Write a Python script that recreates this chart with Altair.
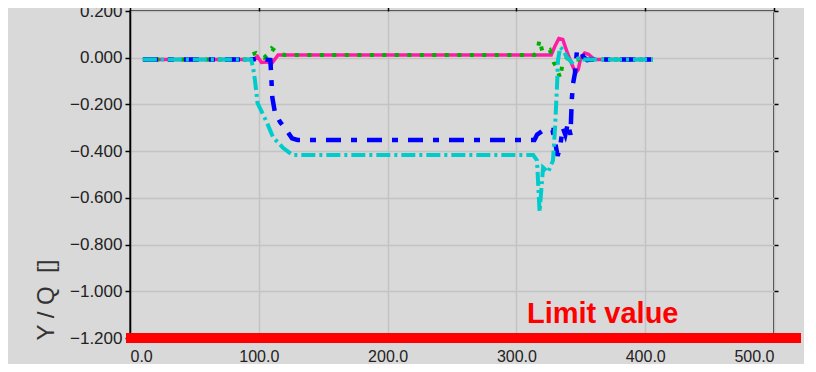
import altair as alt
import pandas as pd

# ---- axis tick values ----
x_ticks = [0, 100, 200, 300, 400, 500]
y_ticks = [-1.2, -1.0, -0.8, -0.6, -0.4, -0.2, 0.0, 0.2]

# ---- series: magenta (solid) ----
mag_x = [10, 96, 99, 102, 106, 110, 115, 327, 330, 333, 336, 339, 341, 344, 346, 348, 350, 353, 356, 359, 362, 406]
mag_y = [-0.008, -0.008, 0.005, -0.02, -0.018, -0.025, 0.012, 0.012, 0.05, 0.082, 0.078, 0.03, 0.0, -0.04,
         -0.065, -0.05, 0.0, 0.02, 0.015, 0.0, -0.008, -0.008]

# ---- series: green (dotted) ----
grn_x = [10, 92, 95, 98, 101, 104, 108, 110, 113, 116, 120, 314, 316, 318, 320, 323, 326, 329, 331, 334, 336, 340, 345, 406]
grn_y = [-0.008, -0.008, 0.015, 0.02, 0.01, 0.0, 0.02, 0.04, 0.028, 0.018, 0.012, 0.012, 0.025, 0.076, 0.03,
         0.025, 0.033, -0.02, -0.04, -0.087, -0.02, 0.003, -0.008, -0.008]

# ---- series: blue (dash-dot) ----
blu_x = [10, 95, 98, 101, 105, 109, 110.5, 112.6, 116.5, 122.7, 125.8, 130,
         314, 316, 321, 328, 330, 332, 334, 336, 338, 340, 342, 343, 344, 345.5, 347, 350, 352, 355, 358, 406]
blu_y = [-0.008, -0.008, -0.005, -0.012, -0.008, -0.01, -0.17, -0.237, -0.275, -0.32, -0.345, -0.352,
         -0.352, -0.33, -0.31, -0.31, -0.36, -0.42, -0.38, -0.30, -0.33, -0.28, -0.33, -0.18, -0.11, -0.065,
         0.03, 0.033, 0.003, -0.01, -0.008, -0.008]

# ---- series: cyan (dash-dot) ----
cyn_x = [10, 94, 95.5, 97, 99, 106.5, 111, 119, 126, 313, 316, 318, 320.7, 324.6, 328.4, 330, 331.5, 332.3,
         334, 336, 339, 343, 349, 352, 406]
cyn_y = [-0.008, -0.008, -0.04, -0.095, -0.194, -0.28, -0.34, -0.387, -0.416, -0.416, -0.44, -0.66, -0.47,
         -0.49, -0.44, -0.30, -0.125, -0.01, 0.045, 0.035, 0.003, -0.02, 0.0, -0.008, -0.008]

limit_value = -1.2
limit_label = "Limit value"
y_title = "Y / Q\u00a0\u00a0[]"

FONT = "Liberation Sans"
GRID = "#c3c3c3"

xscale = alt.Scale(domain=[0, 500], nice=False, zero=False)
yscale = alt.Scale(domain=[-1.2, 0.2], nice=False, zero=False)


def frame(xs, ys):
    return pd.DataFrame({"x": xs, "y": ys})


x_axis_main = alt.Axis(values=x_ticks, format=".1f", title=None, domain=False, ticks=False,
                       labelPadding=10, grid=True, gridColor=GRID, gridWidth=1.5,
                       labelFont=FONT, labelFontSize=16, labelColor="#222")
y_axis_main = alt.Axis(values=y_ticks, format=".3f", title=y_title, domainColor="black", domainWidth=1.5,
                       tickColor="black", tickSize=5, tickWidth=1.5, labelPadding=3, grid=True,
                       gridColor=GRID, gridWidth=1.5, labelFont=FONT, labelFontSize=17, labelColor="#222",
                       titleAngle=270, titleAlign="left", titleX=-77, titleY=329,
                       titleBaseline="alphabetic", titleFont=FONT, titleFontSize=24,
                       titleFontWeight="normal", titleColor="#333")
x_axis_top = alt.Axis(orient="top", values=x_ticks, labels=False, title=None, domain=False,
                      tickColor="black", tickSize=4, tickWidth=1.5, grid=False)
y_axis_right = alt.Axis(orient="right", values=y_ticks, labels=False, title=None, domain=False,
                        tickColor="black", tickSize=4, tickWidth=1.5, grid=False)

magenta = alt.Chart(frame(mag_x, mag_y)).mark_line(color="#ff1ca5", strokeWidth=3.5, clip=False).encode(
    x=alt.X("x:Q", scale=xscale, axis=x_axis_main),
    y=alt.Y("y:Q", scale=yscale, axis=y_axis_main),
)
green = alt.Chart(frame(grn_x, grn_y)).mark_line(color="#00b000", strokeWidth=4, strokeDash=[4, 8.5],
                                                 clip=False).encode(
    x=alt.X("x:Q", scale=xscale, axis=None),
    y=alt.Y("y:Q", scale=yscale, axis=None),
)
blue = alt.Chart(frame(blu_x, blu_y)).mark_line(color="#0000ff", strokeWidth=4.5, strokeDash=[15, 10, 6, 10],
                                                clip=False).encode(
    x=alt.X("x:Q", scale=xscale, axis=None),
    y=alt.Y("y:Q", scale=yscale, axis=None),
)
cyan = alt.Chart(frame(cyn_x, cyn_y)).mark_line(color="#00cccc", strokeWidth=4, strokeDash=[14, 4, 3, 4],
                                                clip=False).encode(
    x=alt.X("x:Q", scale=xscale, axis=x_axis_top),
    y=alt.Y("y:Q", scale=yscale, axis=y_axis_right),
)

limit_bar = alt.Chart(pd.DataFrame({"v": [limit_value]})).mark_rule(
    color="#ff0000", strokeWidth=10, strokeCap="butt", clip=False
).encode(
    y=alt.Y("v:Q", scale=yscale, axis=None),
    x=alt.value(-4),
    x2=alt.value(671),
)
limit_text = alt.Chart(pd.DataFrame({"v": [limit_value], "t": [limit_label]})).mark_text(
    color="#ff0000", font=FONT, fontSize=29, fontWeight="bold", align="left", baseline="alphabetic", dy=-15
).encode(
    y=alt.Y("v:Q", scale=yscale, axis=None),
    x=alt.value(397),
    text="t:N",
)

chart = alt.layer(magenta, green, blue, cyan, limit_bar, limit_text).resolve_scale(
    x="shared", y="shared"
).resolve_axis(
    x="independent", y="independent"
).properties(
    width=644, height=327,
    autosize=alt.AutoSizeParams(type="none"),
    padding={"left": 122, "top": 3, "right": 30, "bottom": 26},
).configure(
    background="#d9d9d9"
).configure_view(
    fill="#d9d9d9", stroke="black", strokeWidth=1.5
)

chart.save("out.html", embed_options={"renderer": "svg", "actions": False})
